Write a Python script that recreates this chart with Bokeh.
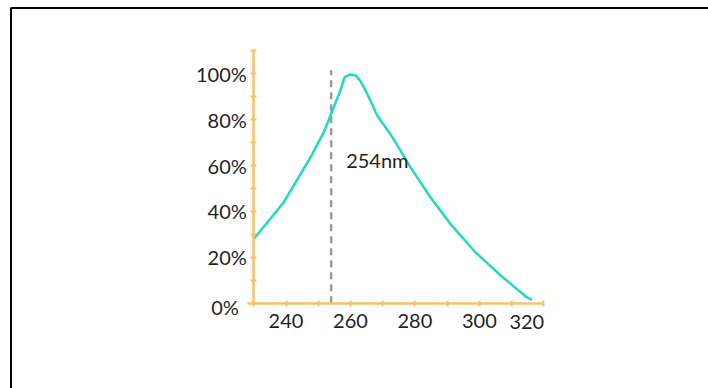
from bokeh.plotting import figure
from bokeh.models import Range1d, FixedTicker, Label, LinearAxis, BoxAnnotation
from bokeh.embed import file_html
from bokeh.resources import INLINE

# ---- data ----
wavelength = [230, 239.3, 247.6, 251.7, 253.8, 256.9, 258.2, 260.0, 261.6, 263.1,
              265.2, 268.3, 273.0, 278.6, 284.8, 291.0, 298.8, 306.6, 314.9, 316.4]
absorbance = [28, 44.0, 63.6, 74.5, 81.8, 92.8, 98.5, 99.7, 99.3, 96.8,
              91.3, 81.8, 72.4, 59.3, 46.2, 34.6, 22.2, 12.1, 2.4, 1.5]

x_ticks = [230, 240, 250, 260, 270, 280, 290, 300, 310, 320]
x_label_values = [240, 260, 280, 300, 320]
y_ticks = [0, 10, 20, 30, 40, 50, 60, 70, 80, 90, 100, 110]
y_label_values = [0, 20, 40, 60, 80, 100]

x_min, x_max = 230, 320
y_min, y_max = 0, 110

marker_wavelength = 254
marker_text = "254nm"
marker_top = 101.5

AXIS = "#F5C26B"
CURVE = "#1FD9C1"
TEXT = "#1f1f1f"
FONT = "Lato"

# ---- layout: the frame fills the whole canvas, axes sit at fixed locations ----
W, H = 708, 388
x0_px, x1_px = 253.3, 543.3      # canvas px of x_min / x_max
y0_px, y100_px = 302.7, 73.3     # canvas px of 0 % / 100 %
kx = (x_max - x_min) / (x1_px - x0_px)
ky = 100.0 / (y0_px - y100_px)
xs = x_min - x0_px * kx
xe = xs + W * kx
ys = -(H - y0_px) * ky
ye = ys + H * ky

p = figure(width=W, height=H, output_backend="svg", toolbar_location=None,
           x_range=Range1d(xs, xe), y_range=Range1d(ys, ye),
           x_axis_location=None, y_axis_location=None,
           min_border=0, min_border_left=0, min_border_right=0,
           min_border_top=0, min_border_bottom=0)
p.outline_line_color = None
p.xgrid.visible = False
p.ygrid.visible = False
p.background_fill_color = "white"
p.border_fill_color = "white"

# page frame: only its top and left edges are inside the picture
p.add_layout(BoxAnnotation(left=xs + 10.5 * kx, top=ye - 7.5 * ky,
                           right=xe + 10 * kx, bottom=ys - 10 * ky,
                           fill_color=None, fill_alpha=0,
                           line_color="black", line_width=2, line_alpha=1))

xaxis = LinearAxis(fixed_location=y_min, bounds=(x_min - 6 * kx, x_max))
yaxis = LinearAxis(fixed_location=x_min, bounds=(y_min, y_max))
p.add_layout(xaxis, "below")
p.add_layout(yaxis, "left")

for ax in (xaxis, yaxis):
    ax.axis_line_color = AXIS
    ax.axis_line_width = 2.5
    ax.major_tick_line_color = AXIS
    ax.major_tick_line_width = 2
    ax.major_tick_in = 3
    ax.major_tick_out = 3
    ax.minor_tick_line_color = None
    ax.major_label_text_font = FONT
    ax.major_label_text_color = TEXT

xaxis.ticker = FixedTicker(ticks=x_ticks)
xaxis.major_label_overrides = {t: (str(t) if t in x_label_values[:-1] else "") for t in x_ticks}
xaxis.major_label_text_font_size = "20px"
xaxis.major_label_standoff = 8

yaxis.ticker = FixedTicker(ticks=y_ticks)
yaxis.major_label_overrides = {t: (f"{t}%" if t in y_label_values[1:] else "") for t in y_ticks}
yaxis.major_label_text_font_size = "20px"
yaxis.major_label_standoff = 4

# labels placed off their tick in the reference
p.add_layout(Label(x=x_label_values[-1], y=y_min, x_offset=-17, y_offset=-12,
                   text=str(x_label_values[-1]), text_align="center", text_baseline="top",
                   text_font=FONT, text_font_size="20px", text_color=TEXT))
p.add_layout(Label(x=x_min, y=y_label_values[0], x_offset=-15, y_offset=-4,
                   text=f"{y_label_values[0]}%", text_align="right", text_baseline="middle",
                   text_font=FONT, text_font_size="20px", text_color=TEXT))

# dashed marker line
p.line([marker_wavelength, marker_wavelength], [0, marker_top],
       line_color="#9a9a9a", line_width=2.5, line_dash="7 5")

p.add_layout(Label(x=marker_wavelength, y=62.5, x_offset=15, text=marker_text,
                   text_align="left", text_baseline="middle",
                   text_font=FONT, text_font_size="20px", text_color=TEXT))

# curve
p.line(wavelength, absorbance, line_color=CURVE, line_width=2.5, line_join="round")

open("out.html", "w").write(file_html(p, INLINE))
